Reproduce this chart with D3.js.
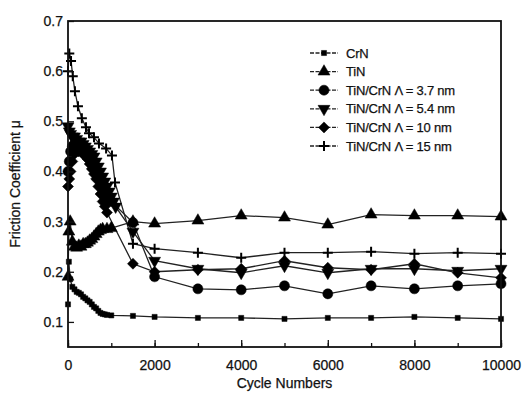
<!DOCTYPE html>
<html>
<head>
<meta charset="utf-8">
<script src="https://cdn.jsdelivr.net/npm/d3@7"></script>
<style>
  body { margin: 0; background: #fff; }
  text { font-family: "Liberation Sans", Arial, sans-serif; fill: #111; stroke: #111; stroke-width: 0.25; }
</style>
</head>
<body>
<svg id="svg"></svg>
<script>
// cycle numbers and friction coefficient values
const crnCycles = [0, 20, 50, 100, 150, 200, 250, 300, 350, 400, 450, 500, 550, 600, 650, 700, 750, 800, 850, 900, 1000, 1500, 2000, 3000, 4000, 5000, 6000, 7000, 8000, 9000, 10000];
const crnMu = [0.135, 0.22, 0.185, 0.17, 0.165, 0.16, 0.158, 0.155, 0.15, 0.147, 0.143, 0.14, 0.135, 0.13, 0.127, 0.122, 0.118, 0.116, 0.115, 0.114, 0.113, 0.112, 0.11, 0.108, 0.108, 0.106, 0.108, 0.108, 0.11, 0.108, 0.106];

const tinCycles = [0, 20, 50, 100, 150, 200, 250, 300, 350, 400, 450, 500, 550, 600, 650, 700, 750, 800, 900, 1000, 1500, 2000, 3000, 4000, 5000, 6000, 7000, 8000, 9000, 10000];
const tinMu = [0.19, 0.28, 0.3, 0.26, 0.25, 0.248, 0.252, 0.25, 0.255, 0.255, 0.258, 0.262, 0.265, 0.27, 0.275, 0.28, 0.283, 0.285, 0.285, 0.287, 0.3, 0.296, 0.302, 0.312, 0.308, 0.294, 0.314, 0.312, 0.312, 0.31];

const l37Cycles = [0, 30, 60, 100, 150, 200, 250, 300, 350, 400, 450, 500, 550, 600, 650, 700, 750, 800, 850, 900, 950, 1000, 1500, 2000, 3000, 4000, 5000, 6000, 7000, 8000, 9000, 10000];
const l37Mu = [0.40, 0.42, 0.44, 0.45, 0.455, 0.455, 0.45, 0.45, 0.445, 0.44, 0.435, 0.43, 0.42, 0.41, 0.40, 0.39, 0.38, 0.37, 0.36, 0.35, 0.345, 0.34, 0.298, 0.19, 0.166, 0.164, 0.172, 0.156, 0.172, 0.166, 0.172, 0.176];

const l54Cycles = [0, 30, 60, 100, 150, 200, 250, 300, 350, 400, 450, 500, 550, 600, 650, 700, 750, 800, 850, 900, 950, 1000, 1050, 1100, 1500, 2000, 3000, 4000, 5000, 6000, 7000, 8000, 9000, 10000];
const l54Mu = [0.49, 0.48, 0.475, 0.47, 0.47, 0.465, 0.46, 0.46, 0.455, 0.45, 0.445, 0.44, 0.435, 0.43, 0.42, 0.41, 0.40, 0.39, 0.38, 0.37, 0.36, 0.35, 0.34, 0.33, 0.28, 0.222, 0.206, 0.198, 0.212, 0.198, 0.206, 0.206, 0.202, 0.206];

const l10Cycles = [0, 30, 60, 100, 150, 200, 250, 300, 350, 400, 450, 500, 550, 600, 650, 700, 750, 800, 850, 900, 1500, 2000, 3000, 4000, 5000, 6000, 7000, 8000, 9000, 10000];
const l10Mu = [0.37, 0.385, 0.40, 0.42, 0.435, 0.44, 0.44, 0.44, 0.435, 0.43, 0.425, 0.415, 0.405, 0.395, 0.385, 0.37, 0.355, 0.34, 0.33, 0.318, 0.216, 0.2, 0.204, 0.206, 0.222, 0.208, 0.204, 0.216, 0.198, 0.188];

const l15Cycles = [0, 30, 70, 110, 160, 230, 320, 415, 485, 600, 715, 880, 1015, 1085, 1500, 2000, 3000, 4000, 5000, 6000, 7000, 8000, 9000, 10000];
const l15Mu = [0.60, 0.635, 0.62, 0.59, 0.56, 0.53, 0.506, 0.488, 0.476, 0.468, 0.456, 0.446, 0.432, 0.378, 0.256, 0.246, 0.238, 0.228, 0.238, 0.238, 0.24, 0.236, 0.238, 0.236];

const seriesNames = ["CrN", "TiN", "TiN/CrN \u039B = 3.7 nm", "TiN/CrN \u039B = 5.4 nm", "TiN/CrN \u039B = 10 nm", "TiN/CrN \u039B = 15 nm"];
const xTicks = [0, 2000, 4000, 6000, 8000, 10000];
const yTicks = [0.1, 0.2, 0.3, 0.4, 0.5, 0.6, 0.7];

const width = 528;
const height = 399;
const margin = {top: 21, right: 27, bottom: 52, left: 68};

const svg = d3.select("#svg")
  .attr("width", width)
  .attr("height", height)
  .attr("viewBox", [0, 0, width, height]);

const x = d3.scaleLinear([0, 10000], [margin.left, width - margin.right]);
const y = d3.scaleLinear([0.05, 0.7], [height - margin.bottom, margin.top]);

const plus = {
  draw(ctx, size) {
    const r = Math.sqrt(size) / 2;
    ctx.moveTo(-r, 0); ctx.lineTo(r, 0);
    ctx.moveTo(0, -r); ctx.lineTo(0, r);
  }
};

const series = [
  {cycles: crnCycles, mu: crnMu, type: d3.symbolSquare, size: 26, rot: 0},
  {cycles: tinCycles, mu: tinMu, type: d3.symbolTriangle, size: 62, rot: 0},
  {cycles: l37Cycles, mu: l37Mu, type: d3.symbolCircle, size: 80, rot: 0},
  {cycles: l54Cycles, mu: l54Mu, type: d3.symbolTriangle, size: 62, rot: 180},
  {cycles: l10Cycles, mu: l10Mu, type: d3.symbolSquare, size: 60, rot: 45},
  {cycles: l15Cycles, mu: l15Mu, type: plus, size: 100, rot: 0, stroke: true}
];

const line = d3.line()
  .x(d => x(d[0]))
  .y(d => y(d[1]));

series.forEach(s => {
  const pts = s.cycles.map((c, i) => [c, s.mu[i]]);
  svg.append("path")
    .datum(pts)
    .attr("fill", "none")
    .attr("stroke", "#222")
    .attr("stroke-width", 1.3)
    .attr("d", line);
});

series.forEach(s => {
  const pts = s.cycles.map((c, i) => [c, s.mu[i]]);
  svg.append("g")
    .selectAll("path")
    .data(pts)
    .join("path")
    .attr("transform", d => `translate(${x(d[0])},${y(d[1])}) rotate(${s.rot})`)
    .attr("d", d3.symbol(s.type, s.size))
    .attr("fill", s.stroke ? "none" : "#000")
    .attr("stroke", "#000")
    .attr("stroke-width", s.stroke ? 2 : 0.5);
});

// axes, ticks pointing inward
svg.append("g")
  .attr("transform", `translate(0,${height - margin.bottom})`)
  .call(d3.axisBottom(x).tickValues(d3.range(0, 10001, 1000)).tickSize(-4).tickFormat(""))
  .call(g => g.select(".domain").remove())
  .call(g => g.selectAll("line").attr("stroke", "#111").attr("stroke-width", 1.3));

svg.append("g")
  .attr("transform", `translate(0,${height - margin.bottom})`)
  .call(d3.axisBottom(x).tickValues(xTicks).tickSize(-7).tickPadding(13).tickFormat(d3.format("d")))
  .call(g => g.select(".domain").remove())
  .call(g => g.selectAll("line").attr("stroke", "#111").attr("stroke-width", 1.3))
  .call(g => g.selectAll("text").attr("font-size", 14).attr("font-family", "Liberation Sans, Arial, sans-serif"));

svg.append("g")
  .attr("transform", `translate(${margin.left},0)`)
  .call(d3.axisLeft(y).tickValues(yTicks).tickSize(-6).tickPadding(5).tickFormat(d3.format(".1f")))
  .call(g => g.select(".domain").remove())
  .call(g => g.selectAll("line").attr("stroke", "#111").attr("stroke-width", 1.3))
  .call(g => g.selectAll("text").attr("font-size", 14).attr("font-family", "Liberation Sans, Arial, sans-serif"));

svg.append("rect")
  .attr("x", margin.left)
  .attr("y", margin.top)
  .attr("width", width - margin.left - margin.right)
  .attr("height", height - margin.top - margin.bottom)
  .attr("fill", "none")
  .attr("stroke", "#111")
  .attr("stroke-width", 1.8);

svg.append("text")
  .attr("x", (margin.left + width - margin.right) / 2)
  .attr("y", 388)
  .attr("text-anchor", "middle")
  .attr("font-size", 14)
  .text("Cycle Numbers");

svg.append("text")
  .attr("transform", `translate(20,${(margin.top + height - margin.bottom) / 2}) rotate(-90)`)
  .attr("text-anchor", "middle")
  .attr("font-size", 14)
  .text("Friction Coefficient \u03BC");

// legend
const legend = svg.append("g");
series.forEach((s, i) => {
  const ly = 53 + i * 18.6;
  legend.append("line")
    .attr("x1", 310).attr("x2", 338)
    .attr("y1", ly).attr("y2", ly)
    .attr("stroke", "#222")
    .attr("stroke-width", 1.3)
    .attr("stroke-dasharray", "4,1.5");
  legend.append("path")
    .attr("transform", `translate(324,${ly}) rotate(${s.rot})`)
    .attr("d", d3.symbol(s.type, s.size))
    .attr("fill", s.stroke ? "none" : "#000")
    .attr("stroke", "#000")
    .attr("stroke-width", s.stroke ? 2 : 0.5);
  legend.append("text")
    .attr("x", 346)
    .attr("y", ly + 4.5)
    .attr("font-size", 13)
    .attr("letter-spacing", -0.2)
    .text(seriesNames[i]);
});
</script>
</body>
</html>
